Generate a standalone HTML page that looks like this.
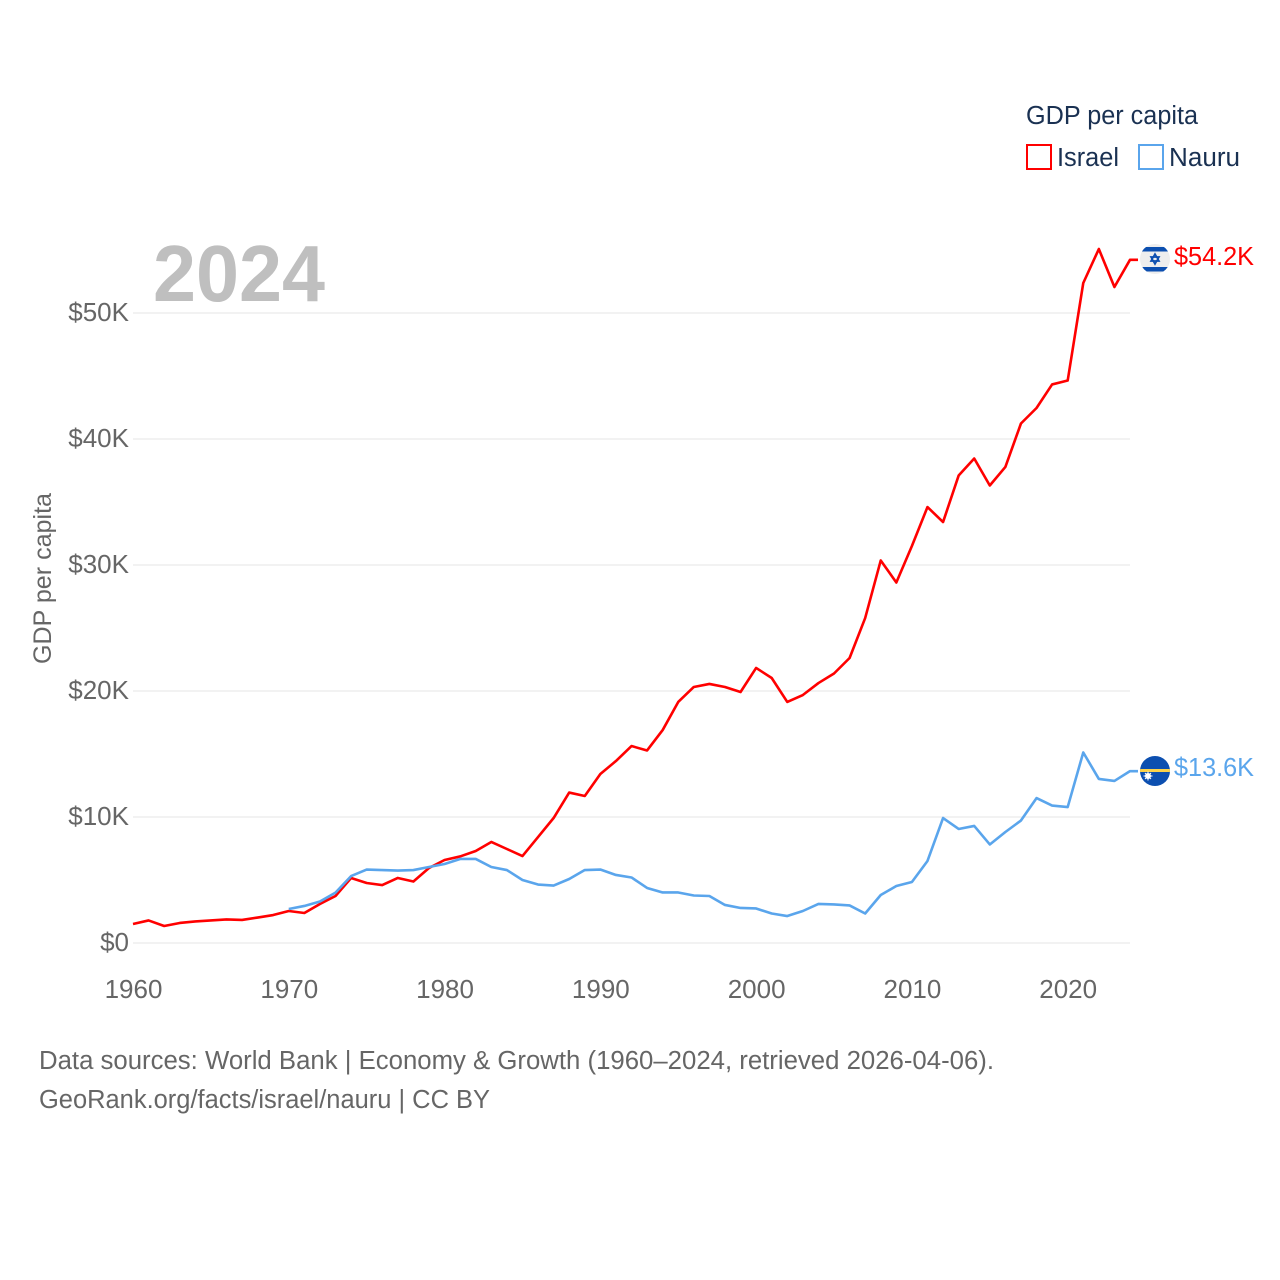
<!DOCTYPE html>
<html lang="en">
<head>
<meta charset="utf-8">
<title>GDP per capita: Israel and Nauru</title>
<style>
html,body{margin:0;padding:0;background:#fff;width:1280px;height:1280px;overflow:hidden}
svg{display:block}
text{font-family:"Liberation Sans",sans-serif}
</style>
</head>
<body>
<svg id="chart" xmlns="http://www.w3.org/2000/svg" width="1280" height="1280" viewBox="0 0 1280 1280">
  <rect width="1280" height="1280" fill="#fff"/>
  <g id="grid"></g>
  <g id="yticks"></g>
  <g id="xticks"></g>
  <text x="153" y="301" font-size="80" font-weight="700" fill="#bfbfbf" textLength="172" lengthAdjust="spacingAndGlyphs">2024</text>
  <text transform="translate(51,664) rotate(-90)" font-size="25" fill="#666" textLength="171" lengthAdjust="spacingAndGlyphs">GDP per capita</text>
  <g id="series"></g>

  <g>
    <text x="1026" y="124" font-size="25.5" fill="#1a3152" textLength="172" lengthAdjust="spacingAndGlyphs">GDP per capita</text>
    <rect x="1027" y="145" width="24" height="24" fill="none" stroke="#ff0000" stroke-width="2"/>
    <text x="1057" y="166" font-size="25.5" fill="#1a3152" textLength="62" lengthAdjust="spacingAndGlyphs">Israel</text>
    <rect x="1139" y="145" width="24" height="24" fill="none" stroke="#5aa5ec" stroke-width="2"/>
    <text x="1169" y="166" font-size="25.5" fill="#1a3152" textLength="71" lengthAdjust="spacingAndGlyphs">Nauru</text>
  </g>

  <defs>
    <clipPath id="flag-clip-il"><circle cx="1155" cy="259" r="15"/></clipPath>
    <clipPath id="flag-clip-nr"><circle cx="1155" cy="771" r="15"/></clipPath>
  </defs>
  <g id="flag-israel" clip-path="url(#flag-clip-il)">
    <rect x="1140" y="244" width="30" height="30" fill="#eeeeee"/>
    <rect x="1140" y="247" width="30" height="4.5" fill="#0c4fb0"/>
    <rect x="1140" y="267" width="30" height="4.5" fill="#0c4fb0"/>
    <polygon points="1155,254 1159,261 1151,261" fill="none" stroke="#0c4fb0" stroke-width="1.7"/>
    <polygon points="1155,264 1159,257 1151,257" fill="none" stroke="#0c4fb0" stroke-width="1.7"/>
  </g>
  <g id="flag-nauru" clip-path="url(#flag-clip-nr)">
    <rect x="1140" y="756" width="30" height="30" fill="#0c4fb0"/>
    <rect x="1140" y="769" width="30" height="3" fill="#fcd24a"/>
    <circle cx="1148" cy="776" r="3" fill="#fff"/>
    <path d="M1148 771.5V780.5M1143.5 776H1152.5M1145 773L1151 779M1151 773L1145 779" stroke="#fff" stroke-width="1"/>
  </g>
  <text id="end-israel" x="1174" y="265" font-size="25.5" fill="#ff0000" textLength="80" lengthAdjust="spacingAndGlyphs"></text>
  <text id="end-nauru" x="1174" y="776" font-size="25.5" fill="#5aa5ec" textLength="80" lengthAdjust="spacingAndGlyphs"></text>

  <g>
    <text x="39" y="1069" font-size="25.5" fill="#666" textLength="955" lengthAdjust="spacingAndGlyphs">Data sources: World Bank | Economy &amp; Growth (1960–2024, retrieved 2026-04-06).</text>
    <text x="39" y="1108" font-size="25.5" fill="#666" textLength="451" lengthAdjust="spacingAndGlyphs">GeoRank.org/facts/israel/nauru | CC BY</text>
  </g>
</svg>
<script>
const yTickValues = [0, 10, 20, 30, 40, 50];
const yTickLabels = ["$0", "$10K", "$20K", "$30K", "$40K", "$50K"];
const xTickYears = [1960, 1970, 1980, 1990, 2000, 2010, 2020];
const xTickLabels = ["1960", "1970", "1980", "1990", "2000", "2010", "2020"];
const israelStartYear = 1960;
const israelValues = [1.51,1.79,1.35,1.59,1.71,1.79,1.87,1.83,2.02,2.22,2.54,2.38,3.10,3.73,5.16,4.76,4.60,5.16,4.88,5.95,6.59,6.87,7.30,8.02,7.46,6.90,8.41,9.92,11.94,11.67,13.41,14.44,15.63,15.28,16.90,19.13,20.32,20.56,20.32,19.92,21.83,21.03,19.13,19.68,20.63,21.39,22.62,25.79,30.36,28.61,31.51,34.60,33.41,37.10,38.45,36.31,37.78,41.23,42.46,44.33,44.64,52.38,55.08,52.06,54.22];
const nauruStartYear = 1970;
const nauruValues = [2.70,2.94,3.29,4.00,5.31,5.83,5.79,5.75,5.79,6.03,6.27,6.67,6.67,6.03,5.79,5.00,4.64,4.56,5.08,5.79,5.83,5.40,5.20,4.37,4.01,4.01,3.77,3.73,3.02,2.78,2.74,2.34,2.14,2.54,3.10,3.06,2.98,2.34,3.81,4.52,4.84,6.51,9.92,9.05,9.29,7.82,8.81,9.72,11.50,10.91,10.79,15.12,13.02,12.86,13.64];

const NS = 'http://www.w3.org/2000/svg';
function xScale(year) { return 133 + (year - 1960) * (1130 - 133) / 64; }
function yScale(value) { return 943 - value * 12.6; }
function make(tag, attrs, parent) {
  const el = document.createElementNS(NS, tag);
  for (const k in attrs) el.setAttribute(k, attrs[k]);
  parent.appendChild(el);
  return el;
}

const grid = document.getElementById('grid');
const yticks = document.getElementById('yticks');
const xticks = document.getElementById('xticks');
const series = document.getElementById('series');

yTickValues.forEach(function (v, i) {
  const line = make('line', {x1: 133, x2: 1130, y1: yScale(v), y2: yScale(v), stroke: '#e9e9e9', 'stroke-width': 1.3}, grid);
  
  
  const label = make('text', {x: 129, y: yScale(v) + 8, 'text-anchor': 'end', 'font-size': 26, fill: '#666'}, yticks);
  
  
  label.textContent = yTickLabels[i];
});

xTickYears.forEach(function (y, i) {
  const label = make('text', {x: xScale(y) + 0.5, y: 998, 'text-anchor': 'middle', 'font-size': 26, fill: '#666'}, xticks);
  
  
  label.textContent = xTickLabels[i];
});

function drawSeries(values, startYear, color) {
  const pts = values.map(function (v, i) { return xScale(startYear + i).toFixed(2) + ',' + yScale(v).toFixed(2); });
  const last = values[values.length - 1];
  pts.push((xScale(startYear + values.length - 1) + 8).toFixed(2) + ',' + yScale(last).toFixed(2));
  return make('polyline', {points: pts.join(' '), fill: 'none', stroke: color, 'stroke-width': 2.6, 'stroke-linejoin': 'round'}, series);
}

const nauruLine = drawSeries(nauruValues, nauruStartYear, '#5aa5ec');


const israelLine = drawSeries(israelValues, israelStartYear, '#ff0000');


series.insertBefore(israelLine, nauruLine);

document.getElementById('end-israel').textContent = '$' + israelValues[israelValues.length - 1].toFixed(1) + 'K';
document.getElementById('end-nauru').textContent = '$' + nauruValues[nauruValues.length - 1].toFixed(1) + 'K';
</script>
</body>
</html>
